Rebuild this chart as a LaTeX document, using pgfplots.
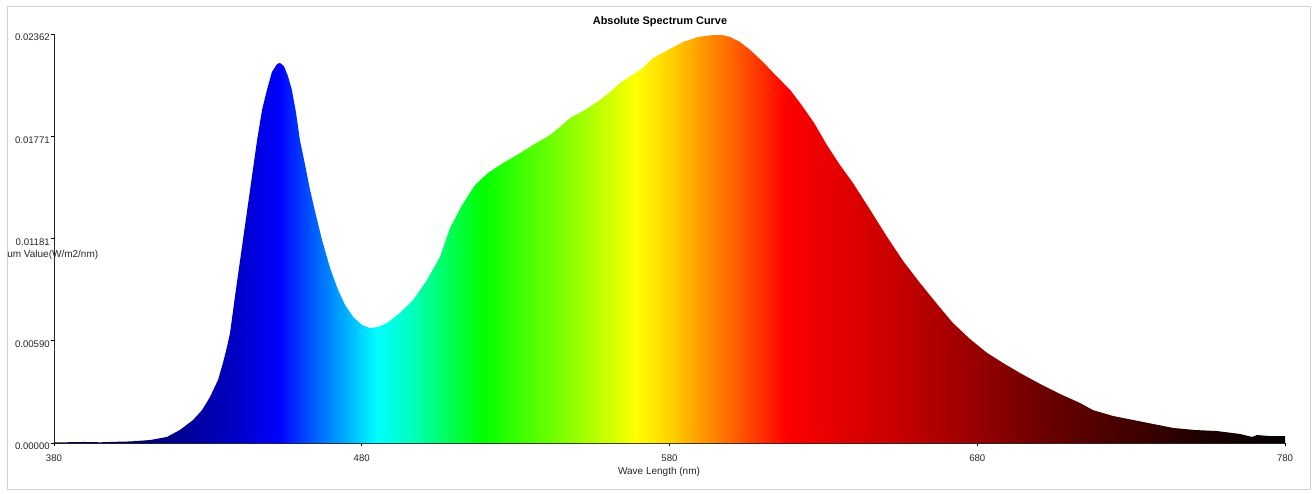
\documentclass[border=0pt]{standalone}
\usepackage{fontspec}
\setmainfont{Liberation Sans}
\usepackage{pgfplots}
\pgfplotsset{compat=1.18}
\usepackage{pgfplotstable}

\definecolor{s380}{RGB}{10,10,60}
\definecolor{s415}{RGB}{0,0,130}
\definecolor{s440}{RGB}{0,0,200}
\definecolor{s453}{RGB}{0,0,255}
\definecolor{s469}{RGB}{0,130,255}
\definecolor{s485}{RGB}{0,255,255}
\definecolor{s496}{RGB}{0,255,190}
\definecolor{s519}{RGB}{0,255,0}
\definecolor{s546}{RGB}{130,255,0}
\definecolor{s569}{RGB}{255,255,0}
\definecolor{s580}{RGB}{255,210,0}
\definecolor{s593}{RGB}{255,140,0}
\definecolor{s604}{RGB}{255,80,0}
\definecolor{s618}{RGB}{255,0,0}
\definecolor{s653}{RGB}{200,0,0}
\definecolor{s680}{RGB}{150,0,0}
\definecolor{s700}{RGB}{110,0,0}
\definecolor{s720}{RGB}{80,0,0}
\definecolor{s750}{RGB}{35,0,0}
\definecolor{s780}{RGB}{0,0,0}
\definecolor{framegray}{RGB}{210,210,210}

\pgfdeclarehorizontalshading{spectrum}{100bp}{%
color(0bp)=(s380); color(25bp)=(s380); color(29.375bp)=(s415);
color(32.5bp)=(s440); color(34.125bp)=(s453); color(36.125bp)=(s469);
color(38.125bp)=(s485); color(39.5bp)=(s496); color(42.375bp)=(s519);
color(45.75bp)=(s546); color(48.625bp)=(s569); color(50bp)=(s580);
color(51.625bp)=(s593); color(53bp)=(s604); color(54.75bp)=(s618);
color(59.125bp)=(s653); color(62.5bp)=(s680); color(65bp)=(s700);
color(67.5bp)=(s720); color(71.25bp)=(s750); color(75bp)=(s780);
color(100bp)=(s780)}

\pgfplotstableread{
wl val
380.0 0.00003
390.0 0.00006
395.0 0.00004
400.0 0.00007
404.7 0.00009
411.2 0.00017
416.7 0.00035
420.9 0.00075
425.2 0.00133
428.1 0.00190
430.7 0.00266
433.3 0.00364
434.9 0.00462
436.2 0.00554
437.2 0.00635
439.1 0.00884
441.4 0.01172
443.7 0.01461
446.0 0.01750
447.6 0.01923
449.2 0.02039
450.8 0.02142
452.5 0.02189
453.4 0.02195
454.7 0.02177
456.0 0.02120
457.3 0.02039
458.6 0.01912
459.9 0.01750
461.6 0.01605
463.2 0.01461
465.1 0.01317
467.1 0.01172
469.7 0.01011
472.3 0.00884
474.6 0.00797
477.2 0.00728
480.1 0.00681
482.7 0.00664
485.3 0.00670
488.2 0.00693
492.4 0.00751
496.7 0.00826
501.2 0.00941
505.4 0.01074
508.7 0.01242
512.6 0.01374
516.8 0.01490
521.0 0.01559
525.9 0.01617
530.4 0.01663
535.6 0.01721
541.2 0.01779
544.4 0.01825
547.7 0.01877
552.5 0.01923
557.4 0.01981
560.7 0.02027
563.9 0.02079
567.8 0.02125
571.4 0.02166
574.6 0.02223
579.5 0.02270
584.4 0.02316
589.3 0.02345
594.1 0.02356
597.1 0.02356
599.7 0.02345
602.9 0.02316
606.2 0.02270
610.4 0.02200
615.0 0.02114
619.2 0.02039
622.4 0.01964
627.0 0.01848
631.2 0.01719
635.4 0.01605
639.6 0.01502
645.2 0.01346
650.7 0.01190
655.9 0.01051
661.4 0.00924
666.9 0.00803
672.1 0.00693
677.6 0.00601
683.2 0.00520
688.4 0.00462
693.9 0.00404
700.4 0.00341
706.9 0.00283
713.4 0.00231
717.6 0.00190
724.1 0.00156
730.6 0.00133
737.1 0.00110
743.6 0.00087
750.8 0.00075
757.9 0.00069
765.4 0.00052
769.3 0.00035
770.9 0.00046
775.1 0.00040
780.0 0.00040
}\spectrumdata

\begin{document}
\begin{tikzpicture}
\useasboundingbox (0,0) rectangle (987pt,369.75pt);
\draw[framegray, line width=0.75pt] (5.25pt,3pt) rectangle (982.5pt,364.5pt);
\begin{axis}[
  at={(40.5pt,37.5pt)}, anchor=south west,
  scale only axis,
  width=923.25pt, height=306.75pt,
  xmin=380, xmax=780, ymin=0, ymax=0.02362,
  axis x line=bottom, axis y line=left,
  axis line style={-, black!85, line width=0.6pt},
  clip=false,
  scaled y ticks=false, scaled x ticks=false,
  xtick={380,480,580,680,780},
  xticklabels={380,480,580,680,780},
  ytick={0,0.005905,0.01181,0.017715,0.02362},
  yticklabels={0.00000,0.00590,0.01181,0.01771,0.02362},
  tick align=outside,
  major tick length=2.5pt,
  tick style={black, line width=0.5pt},
  every tick label/.append style={font=\fontsize{7.2}{8}\selectfont, text=black!85},
  xticklabel style={anchor=north, inner sep=0pt, yshift=-6pt},
  yticklabel style={anchor=north east, inner sep=0pt, xshift=-0.5pt},
]
\addplot[draw=none, shade, shading=spectrum] table[x=wl, y=val] {\spectrumdata} \closedcycle;
\end{axis}
\node[font=\bfseries\fontsize{8.2}{9}\selectfont, inner sep=0pt] at (495pt,353.25pt) {Absolute Spectrum Curve};
\node[font=\fontsize{7.5}{9}\selectfont, inner sep=0pt, text=black!85] at (494.25pt,15.75pt) {Wave Length (nm)};
\node[font=\fontsize{7.5}{9}\selectfont, inner sep=0pt, anchor=west, text=black!85] at (5.25pt,178.5pt) {um Value(W/m2/nm)};
\end{tikzpicture}
\end{document}
